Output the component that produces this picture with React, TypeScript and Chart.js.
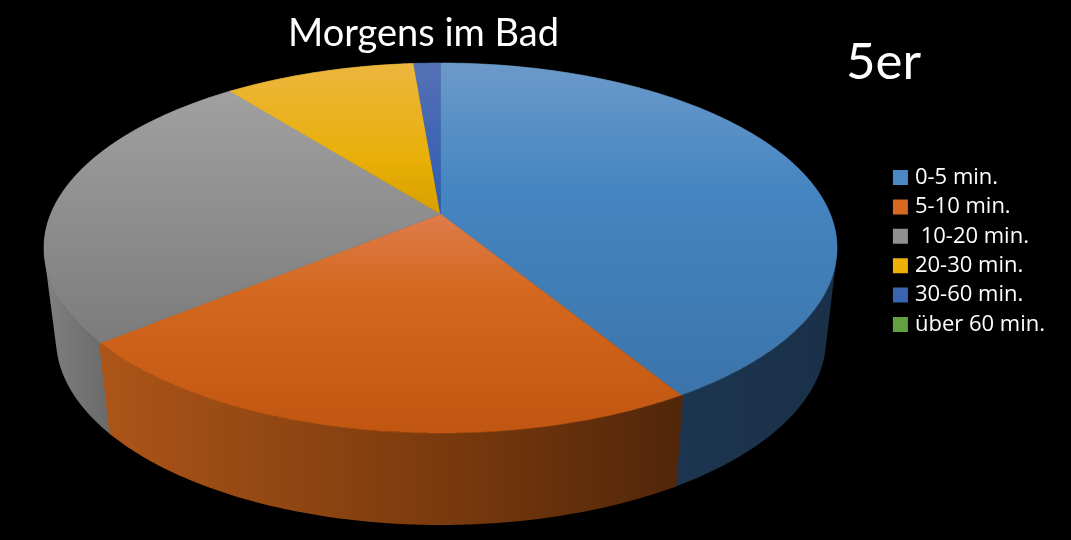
import React, { useEffect, useRef } from "react";
import { Chart, registerables } from "chart.js";

Chart.register(...registerables);

const categories = ["0-5 min.", "5-10 min.", " 10-20 min.", "20-30 min.", "30-60 min.", "über 60 min."];
const shares = [41.3, 22.7, 25.4, 9.3, 1.3, 0];
const legendColors = ["#4a89c3", "#d9691f", "#909090", "#eeb009", "#3a64b2", "#63a03f"];
const chartTitle = "Morgens im Bad";
const cornerLabel = "5er";

// top-surface vertical gradients: [y, colour] stops
const topShades: [number, string][][] = [
  [[63, "#6c9ac9"], [190, "#4585c1"], [395, "#3c74aa"]],
  [[214, "#de7c4c"], [290, "#d4681f"], [433, "#c15610"]],
  [[92, "#a0a0a0"], [340, "#7c7c7c"]],
  [[63, "#ecb63f"], [160, "#e9af07"], [214, "#d79f00"]],
  [[63, "#5571b5"], [214, "#2b5cb0"]],
  [[63, "#70ad47"], [214, "#5a9a35"]],
];
// side-wall horizontal gradients: [x, colour] stops
const sideShades: [number, string][][] = [
  [[674, "#1c3550"], [837, "#1a3048"]],
  [[102, "#ac5518"], [441, "#7a3a0e"], [680, "#522609"]],
  [[44, "#808080"], [110, "#6a6a6a"]],
  [[230, "#8a6c05"], [414, "#8a6c05"]],
  [[414, "#1a3060"], [441, "#1a3060"]],
  [[414, "#3c6020"], [441, "#3c6020"]],
];

const TOP = { cx: 440.5, cy: 248, rx: 396.5, ry: 185 };
const BOTTOM = { cx: 441, cy: 339, rx: 385, ry: 186 };
const PERSPECTIVE = -0.184;
const PA = Math.sqrt(1 - PERSPECTIVE * PERSPECTIVE);
const SIDE_OVERLAP = 0.006;

type Pt = [number, number];

function project(e: typeof TOP, angle: number): Pt {
  const u = Math.cos(angle);
  const v = Math.sin(angle);
  const w = 1 + PERSPECTIVE * v;
  return [e.cx + (e.rx * PA * u) / w, e.cy + (e.ry * (v + PERSPECTIVE)) / w];
}

function rimPoints(e: typeof TOP, a0: number, a1: number): Pt[] {
  const n = Math.max(2, Math.ceil(Math.abs(a1 - a0) / 0.01));
  const out: Pt[] = [];
  for (let i = 0; i <= n; i++) out.push(project(e, a0 + ((a1 - a0) * i) / n));
  return out;
}

function gradient(ctx: CanvasRenderingContext2D, stops: [number, string][], vertical: boolean) {
  const first = stops[0][0];
  const last = stops[stops.length - 1][0];
  const g = vertical
    ? ctx.createLinearGradient(0, first, 0, last)
    : ctx.createLinearGradient(first, 0, last, 0);
  stops.forEach(([p, c]) => g.addColorStop((p - first) / (last - first), c));
  return g;
}

function addPolygon(ctx: CanvasRenderingContext2D, pts: Pt[]) {
  pts.forEach(([x, y], i) => (i ? ctx.lineTo(x, y) : ctx.moveTo(x, y)));
  ctx.closePath();
}

function signedArea(pts: Pt[]) {
  let s = 0;
  pts.forEach((p, i) => {
    const q = pts[(i + 1) % pts.length];
    s += p[0] * q[1] - q[0] * p[1];
  });
  return s;
}

function paint(ctx: CanvasRenderingContext2D, polys: Pt[][], style: CanvasGradient, outline: boolean) {
  ctx.beginPath();
  polys.forEach((p) => addPolygon(ctx, p));
  ctx.fillStyle = style;
  ctx.fill("nonzero");
  if (outline) {
    ctx.strokeStyle = style;
    ctx.lineWidth = 0.6;
    ctx.stroke();
  }
}

const perspectivePie = {
  id: "perspectivePie",
  beforeDraw(chart: any) {
    const { ctx, width, height } = chart;
    ctx.fillStyle = "#000";
    ctx.fillRect(0, 0, width, height);
    if (chart.titleBlock) {
      chart.titleBlock.left = 0;
      chart.titleBlock.right = 847;
    }
  },
  beforeDatasetDraw(chart: any, args: any) {
    const ctx: CanvasRenderingContext2D = chart.ctx;
    const arcs = args.meta.data;
    const order = [2, 0, 1, 3, 4, 5];
    ctx.save();
    order.forEach((i) => {
      const { startAngle, endAngle } = arcs[i];
      if (endAngle - startAngle < 1e-4) return;
      const a0 = startAngle - SIDE_OVERLAP;
      const a1 = endAngle + SIDE_OVERLAP;
      const top = rimPoints(TOP, a0, a1);
      const bottom = rimPoints(BOTTOM, a0, a1);
      const quads: Pt[][] = [];
      for (let k = 0; k < top.length - 1; k++) {
        const q: Pt[] = [top[k], top[k + 1], bottom[k + 1], bottom[k]];
        quads.push(signedArea(q) < 0 ? q.reverse() : q);
      }
      paint(ctx, quads, gradient(ctx, sideShades[i], false), false);
    });
    arcs.forEach((arc: any, i: number) => {
      const { startAngle, endAngle } = arc;
      if (endAngle - startAngle < 1e-4) return;
      const apex: Pt = [TOP.cx, TOP.cy + TOP.ry * PERSPECTIVE];
      paint(ctx, [[apex, ...rimPoints(TOP, startAngle, endAngle)]], gradient(ctx, topShades[i], true), true);
    });
    ctx.restore();
    return false;
  },
  afterDraw(chart: any) {
    const ctx: CanvasRenderingContext2D = chart.ctx;
    ctx.save();
    ctx.fillStyle = "#fff";
    ctx.font = "51px Lato";
    ctx.textBaseline = "alphabetic";
    ctx.fillText(cornerLabel, 846, 79);
    ctx.restore();
  },
};

export default function App() {
  const ref = useRef<HTMLCanvasElement>(null);
  useEffect(() => {
    const chart = new Chart(ref.current!, {
      type: "pie",
      data: {
        labels: categories,
        datasets: [{ data: shares, backgroundColor: legendColors, borderWidth: 0 }],
      },
      plugins: [perspectivePie],
      options: {
        animation: false,
        responsive: false,
        layout: { padding: { right: 16, bottom: 38, left: 0, top: 0 } },
        plugins: {
          tooltip: { enabled: false },
          title: {
            display: true,
            text: chartTitle,
            color: "#fff",
            font: { family: "Lato", size: 38, weight: "normal" },
            padding: { top: 11, bottom: 0 },
          },
          legend: {
            position: "right",
            labels: {
              color: "#fff",
              font: { family: "Open Sans", size: 22 },
              boxWidth: 7,
              boxHeight: 7,
              padding: 7.4,
              generateLabels: () =>
                categories.map((text, i) => ({
                  text,
                  fillStyle: legendColors[i],
                  strokeStyle: legendColors[i],
                  lineWidth: 8,
                  hidden: false,
                  index: i,
                  fontColor: "#fff",
                })),
            },
          },
        },
      },
    } as any);
    return () => chart.destroy();
  }, []);
  return (
    <div style={{ position: "fixed", left: 0, top: 0, width: 1071, height: 540, background: "#000" }}>
      <canvas ref={ref} width={1071} height={540} style={{ display: "block" }} />
    </div>
  );
}
